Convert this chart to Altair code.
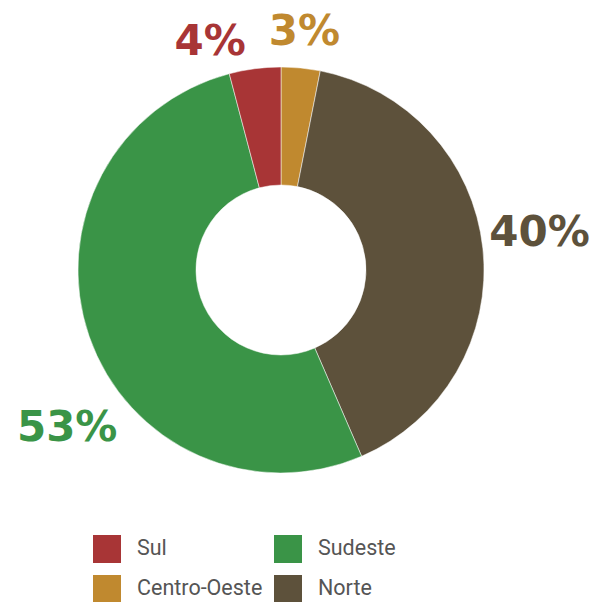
import altair as alt
import pandas as pd

categories = ["Centro-Oeste", "Norte", "Sudeste", "Sul"]
values = [3.1, 40.4, 52.4, 4.1]
labels = ["3%", "40%", "53%", "4%"]
order = [1, 2, 3, 4]

legend_order = ["Sul", "Centro-Oeste", "Sudeste", "Norte"]
legend_colors = ["#A83536", "#C0892F", "#3A9447", "#5D513B"]

df = pd.DataFrame({"regiao": categories, "valor": values, "rotulo": labels, "ordem": order})

color_scale = alt.Scale(domain=legend_order, range=legend_colors)
theta_scale = alt.Scale(domain=[0, 100])

arcs = alt.Chart(df).mark_arc(innerRadius=85, outerRadius=203, stroke="white", strokeWidth=0.5).encode(
    theta=alt.Theta("valor:Q", stack=True, scale=theta_scale),
    order=alt.Order("ordem:Q"),
    color=alt.Color(
        "regiao:N",
        scale=color_scale,
        legend=alt.Legend(
            title=None,
            orient="none",
            legendX=85,
            legendY=527,
            columns=2,
            symbolType="square",
            symbolSize=784,
            symbolStrokeWidth=0,
            symbolOpacity=1,
            labelFont="Roboto",
            labelFontSize=21.5,
            labelColor="#555555",
            labelOffset=16,
            columnPadding=11,
            rowPadding=12,
        ),
    ),
)


def label_layer(cat, dx=0, dy=0):
    return (
        alt.Chart(df)
        .transform_window(cum="sum(valor)", sort=[alt.SortField("ordem")], frame=[None, 0])
        .transform_calculate(mid="datum.cum - datum.valor / 2")
        .transform_filter(alt.datum.regiao == cat)
        .mark_text(radius=240, fontSize=42, font="DejaVu Sans", fontWeight="bold",
                   baseline="middle", align="center", dx=dx, dy=dy)
        .encode(
            theta=alt.Theta("mid:Q", stack=None, scale=theta_scale),
            text="rotulo:N",
            color=alt.Color("regiao:N", scale=color_scale, legend=None),
        )
    )


chart = alt.layer(
    arcs,
    label_layer("Centro-Oeste", 0, 1),
    label_layer("Sul", -40, 10),
    label_layer("Norte", 20, -11),
    label_layer("Sudeste", 13, 80),
).properties(width=546, height=524, padding=0).configure_view(stroke=None)

chart.save("out.html", embed_options={"renderer": "svg", "actions": False})
